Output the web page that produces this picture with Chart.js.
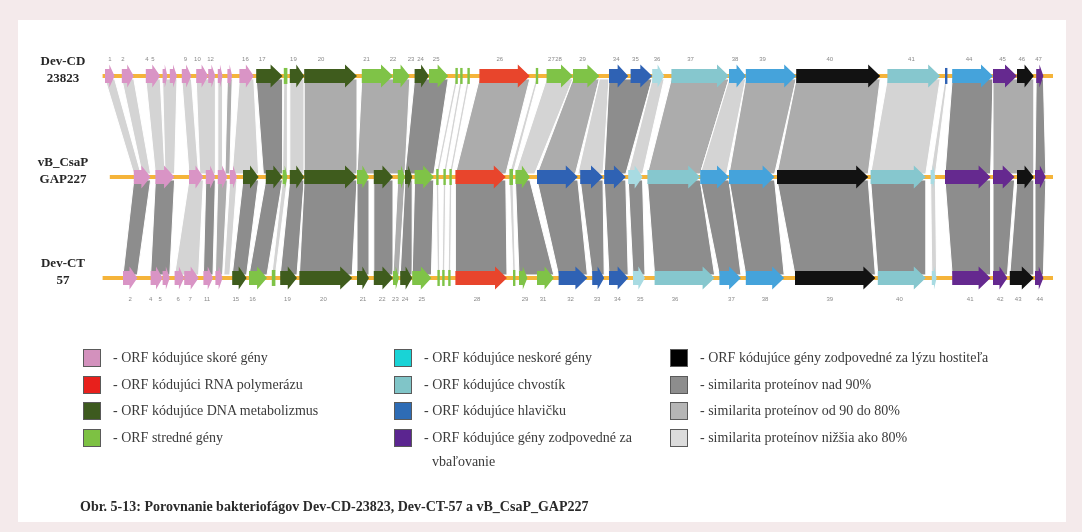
<!DOCTYPE html>
<html>
<head>
<meta charset="utf-8">
<script src="https://cdn.jsdelivr.net/npm/chart.js@4/dist/chart.umd.min.js"></script>
<style>
    body {
        margin: 0;
        width: 1082px;
        height: 532px;
        overflow: hidden;
        position: relative;
        background: #f4eaeb;
        font-family: "Liberation Serif", serif;
    }
    #panel {
        position: absolute;
        left: 18px;
        top: 20px;
        width: 1048px;
        height: 502px;
        background: #fff;
    }
    #genome-chart {
        position: absolute;
        left: 0;
        top: 0;
    }
    .legend-col {
        position: absolute;
        top: 349px;
    }
    .legend-item {
        position: relative;
        height: 26.5px;
    }
    .legend-box {
        position: absolute;
        left: 0;
        top: 0;
        width: 16px;
        height: 16px;
        border: 1px solid #5a5a5a;
    }
    .legend-text {
        position: absolute;
        left: 30px;
        top: 0;
        white-space: nowrap;
        font-size: 14px;
        line-height: 18px;
        color: #3a3a3a;
    }
    .legend-text .wrap {
        display: block;
        padding-left: 8px;
        line-height: 30px;
    }
    #caption {
        position: absolute;
        left: 80px;
        top: 499px;
        font-size: 14px;
        font-weight: bold;
        color: #2a2a2a;
    }
</style>
</head>
<body>
<div id="panel"></div>
<canvas id="genome-chart" width="1082" height="532"></canvas>
<div id="legend"></div>
<div id="caption">Obr. 5-13: Porovnanie bakteriofágov Dev-CD-23823, Dev-CT-57 a vB_CsaP_GAP227</div>
<script>
// genome positions in kb, [start, end, category]
const trackNames = [['Dev-CD', '23823'], ['vB_CsaP', 'GAP227'], ['Dev-CT', '57']];
const genomeSpan = [[-0.1, 39.5], [0.2, 39.5], [-0.1, 39.5]];

const genesTop = [
    [0.0, 0.4, 'early'], [0.7, 1.2, 'early'], [1.7, 2.3, 'early'], [2.4, 2.6, 'early'], [2.7, 3.0, 'early'],
    [3.2, 3.6, 'early'], [3.8, 4.3, 'early'], [4.3, 4.6, 'early'], [4.7, 4.9, 'early'], [5.1, 5.3, 'early'],
    [5.6, 6.2, 'early'], [6.3, 7.4, 'dna'], [7.45, 7.6, 'mid'], [7.7, 8.3, 'dna'], [8.3, 10.5, 'dna'],
    [10.7, 12.0, 'mid'], [12.0, 12.7, 'mid'], [12.9, 13.5, 'dna'], [13.5, 14.3, 'mid'],
    [14.6, 14.7, 'mid'], [14.8, 14.9, 'mid'], [15.1, 15.2, 'mid'], [15.6, 17.7, 'rnap'], [17.95, 18.05, 'mid'],
    [18.4, 19.5, 'mid'], [19.5, 20.6, 'mid'], [21.0, 21.8, 'head'], [21.9, 22.8, 'head'], [22.8, 23.3, 'tail2'],
    [23.6, 26.0, 'tail'], [26.0, 26.7, 'sky'], [26.7, 28.8, 'sky'], [28.8, 32.3, 'lysis'], [32.6, 34.8, 'tail'],
    [35.0, 35.1, 'head'], [35.3, 37.0, 'sky'], [37.0, 38.0, 'pack'], [38.0, 38.7, 'lysis'], [38.8, 39.1, 'pack'],
];

const genesMid = [
    [1.2, 1.9, 'early'], [2.1, 2.9, 'early'], [3.5, 4.1, 'early'], [4.2, 4.6, 'early'], [4.7, 5.1, 'early'],
    [5.2, 5.5, 'early'], [5.75, 6.4, 'dna'], [6.7, 7.4, 'dna'], [7.4, 7.6, 'mid'], [7.7, 8.3, 'dna'],
    [8.3, 10.5, 'dna'], [10.5, 11.0, 'mid'], [11.2, 12.0, 'dna'], [12.2, 12.5, 'mid'], [12.5, 12.8, 'dna'],
    [12.9, 13.7, 'mid'], [13.8, 13.9, 'mid'], [14.1, 14.2, 'mid'], [14.35, 14.45, 'mid'], [14.6, 16.7, 'rnap'],
    [16.85, 17.0, 'mid'], [17.1, 17.7, 'mid'], [18.0, 19.7, 'head'], [19.8, 20.75, 'head'], [20.8, 21.7, 'head'],
    [21.8, 22.4, 'tail2'], [22.6, 24.8, 'tail'], [24.8, 26.0, 'sky'], [26.0, 27.9, 'sky'], [28.0, 31.8, 'lysis'],
    [31.9, 34.2, 'tail'], [34.4, 34.6, 'tail2'], [35.0, 36.9, 'pack'], [37.0, 37.9, 'pack'], [38.0, 38.7, 'lysis'],
    [38.75, 39.2, 'pack'],
];

const genesBottom = [
    [0.75, 1.35, 'early'], [1.9, 2.4, 'early'], [2.4, 2.7, 'early'], [2.9, 3.3, 'early'], [3.3, 3.9, 'early'],
    [4.1, 4.5, 'early'], [4.6, 4.9, 'early'], [5.3, 5.9, 'dna'], [6.0, 6.75, 'mid'], [6.95, 7.1, 'mid'],
    [7.3, 8.0, 'dna'], [8.1, 10.3, 'dna'], [10.5, 11.0, 'dna'], [11.2, 12.0, 'dna'], [12.0, 12.25, 'mid'],
    [12.3, 12.8, 'dna'], [12.8, 13.6, 'mid'], [13.85, 13.95, 'mid'], [14.05, 14.15, 'mid'], [14.3, 14.4, 'mid'],
    [14.6, 16.75, 'rnap'], [17.0, 17.1, 'mid'], [17.25, 17.6, 'mid'], [18.0, 18.7, 'mid'], [18.9, 20.1, 'head'],
    [20.3, 20.8, 'head'], [21.0, 21.8, 'head'], [22.0, 22.5, 'tail2'], [22.9, 25.4, 'tail'], [25.6, 26.5, 'sky'],
    [26.7, 28.3, 'sky'], [28.75, 32.1, 'lysis'], [32.2, 34.2, 'tail'], [34.45, 34.65, 'tail2'], [35.3, 36.9, 'pack'],
    [37.0, 37.6, 'pack'], [37.7, 38.7, 'lysis'], [38.75, 39.1, 'pack'],
];

// similarity links [upper start, upper end, lower start, lower end, class 0 >90% / 1 80-90% / 2 <80%]
const linksTopMid = [
    [0.0, 0.4, 1.2, 1.5, 2], [0.7, 1.2, 1.55, 1.9, 2], [1.7, 2.3, 2.1, 2.5, 2], [2.4, 3.0, 2.5, 2.9, 2],
    [3.2, 3.6, 3.5, 3.9, 2], [3.8, 4.6, 3.95, 4.6, 2], [4.7, 4.9, 4.7, 4.9, 2], [5.1, 5.3, 5.0, 5.2, 1],
    [5.6, 6.2, 5.3, 6.4, 2], [6.3, 7.4, 6.6, 7.4, 0], [7.45, 7.6, 7.4, 7.6, 2], [7.7, 8.3, 7.7, 8.3, 2],
    [8.3, 10.5, 8.3, 10.5, 1], [10.7, 12.7, 10.5, 12.5, 1], [12.9, 14.3, 12.5, 13.7, 0],
    [14.6, 14.7, 13.8, 13.9, 2], [14.8, 14.9, 14.1, 14.2, 2], [15.1, 15.2, 14.35, 14.45, 2],
    [15.6, 17.7, 14.6, 16.7, 1], [17.95, 18.05, 16.85, 17.0, 2], [18.4, 19.5, 17.1, 17.9, 2],
    [19.5, 20.6, 18.0, 19.6, 1], [20.6, 21.0, 19.7, 20.75, 2], [21.0, 22.8, 20.8, 21.7, 0],
    [22.8, 23.3, 21.8, 22.4, 2], [23.6, 26.0, 22.6, 24.8, 1], [26.0, 26.7, 24.8, 25.9, 2],
    [26.7, 28.8, 26.0, 27.9, 1], [28.8, 32.3, 28.0, 31.8, 1], [32.6, 34.8, 31.9, 34.2, 2],
    [35.0, 35.1, 34.4, 34.6, 2], [35.3, 37.0, 35.0, 36.9, 0], [37.0, 38.7, 37.0, 38.7, 1],
    [38.8, 39.1, 38.75, 39.2, 0],
];

const linksMidBottom = [
    [1.2, 1.9, 0.75, 1.35, 0], [2.1, 2.9, 1.9, 2.7, 0], [3.5, 4.1, 2.9, 3.9, 2], [4.2, 4.6, 4.1, 4.5, 0],
    [4.7, 5.1, 4.6, 4.9, 1], [5.2, 5.5, 4.95, 5.2, 2], [5.75, 6.4, 5.3, 5.9, 0], [6.7, 7.4, 6.0, 6.75, 0],
    [7.4, 7.6, 6.95, 7.1, 2], [7.7, 8.3, 7.3, 8.0, 0], [8.3, 10.5, 8.1, 10.3, 0], [10.5, 11.0, 10.5, 11.0, 0],
    [11.2, 12.0, 11.2, 12.0, 0], [12.2, 12.5, 12.0, 12.25, 1], [12.5, 12.8, 12.3, 12.8, 0],
    [12.9, 13.7, 12.8, 13.6, 0], [13.8, 13.9, 13.85, 13.95, 2], [14.1, 14.2, 14.05, 14.15, 2],
    [14.35, 14.45, 14.3, 14.4, 2], [14.6, 16.7, 14.6, 16.75, 0], [16.85, 17.0, 17.0, 17.1, 2],
    [17.1, 17.7, 17.25, 18.7, 0], [18.0, 19.7, 18.9, 20.1, 0], [19.8, 20.75, 20.3, 20.8, 0],
    [20.8, 21.7, 21.0, 21.8, 0], [21.8, 22.4, 22.0, 22.5, 0], [22.6, 24.8, 22.9, 25.4, 0],
    [24.8, 26.0, 25.6, 26.5, 0], [26.0, 27.9, 26.7, 28.3, 0], [28.0, 31.8, 28.75, 32.1, 0],
    [31.9, 34.2, 32.2, 34.2, 0], [34.4, 34.6, 34.45, 34.65, 2], [35.0, 36.9, 35.3, 36.9, 0],
    [37.0, 37.9, 37.0, 37.6, 0], [38.0, 38.7, 37.7, 38.7, 0], [38.75, 39.2, 38.75, 39.1, 0],
];

// ORF numbers [number, kb]
const orfNumbersTop = [
    [1, 0.2], [2, 0.75], [4, 1.75], [5, 2.0], [9, 3.35], [10, 3.85], [12, 4.4], [16, 5.85], [17, 6.55],
    [19, 7.85], [20, 9.0], [21, 10.9], [22, 12.0], [23, 12.75], [24, 13.15], [25, 13.8], [26, 16.45],
    [27, 18.6], [28, 18.9], [29, 19.9], [34, 21.3], [35, 22.1], [36, 23.0], [37, 24.4], [38, 26.25],
    [39, 27.4], [40, 30.2], [41, 33.6], [44, 36.0], [45, 37.4], [46, 38.2], [47, 38.9],
];
const orfNumbersBottom = [
    [2, 1.05], [4, 1.9], [5, 2.3], [6, 3.05], [7, 3.55], [11, 4.25], [15, 5.45], [16, 6.15], [19, 7.6],
    [20, 9.1], [21, 10.75], [22, 11.55], [23, 12.1], [24, 12.5], [25, 13.2], [28, 15.5], [29, 17.5],
    [31, 18.25], [32, 19.4], [33, 20.5], [34, 21.35], [35, 22.3], [36, 23.75], [37, 26.1], [38, 27.5],
    [39, 30.2], [40, 33.1], [41, 36.05], [42, 37.3], [43, 38.05], [44, 38.95],
];

const geneColors = {
    early: '#d994c5', rnap: '#e8452c', dna: '#3f5c1d', mid: '#7fc347', head: '#2f62b4',
    sky: '#45a3db', tail: '#86c7ce', tail2: '#a8dbe2', lysis: '#121212', pack: '#65298f',
};
const linkColors = ['#8d8d8d', '#acacac', '#d4d4d4'];

const legendColumns = [
    [['- ORF kódujúce skoré gény', '#d391bd'], ['- ORF kódujúci RNA polymerázu', '#e8201c'],
     ['- ORF kódujúce DNA metabolizmus', '#3d5a1f'], ['- ORF stredné gény', '#7dc143']],
    [['- ORF kódujúce neskoré gény', '#19d3d6'], ['- ORF kódujúce chvostík', '#80c5c8'],
     ['- ORF kódujúce hlavičku', '#2e6cb5'], ['- ORF kódujúce gény zodpovedné za|vbaľovanie', '#5b2590']],
    [['- ORF kódujúce gény zodpovedné za lýzu hostiteľa', '#000000'], ['- similarita proteínov nad 90%', '#8d8d8d'],
     ['- similarita proteínov od 90 do 80%', '#b5b5b5'], ['- similarita proteínov nižšia ako 80%', '#dcdcdc']],
];
const legendLeft = [83, 394, 670];

const drawLinks = (ctx, x, y, links, upper, lower) => {
    const y1 = y.getPixelForValue(upper) + 3;
    const y2 = y.getPixelForValue(lower) - 3;
    links.forEach(([a1, a2, b1, b2, cls]) => {
        ctx.beginPath();
        ctx.moveTo(x.getPixelForValue(a1), y1);
        ctx.lineTo(x.getPixelForValue(a2), y1);
        ctx.lineTo(x.getPixelForValue(b2), y2);
        ctx.lineTo(x.getPixelForValue(b1), y2);
        ctx.closePath();
        ctx.fillStyle = linkColors[cls];
        ctx.fill();
        ctx.strokeStyle = '#ffffff';
        ctx.lineWidth = 1;
        ctx.stroke();
    });
};

const drawGene = (ctx, x1, x2, yc, color) => {
    const len = x2 - x1;
    ctx.fillStyle = color;
    if (len < 4) {
        ctx.fillRect(x1, yc - 8, Math.max(len, 1.6), 16);
        return;
    }
    const body = 7, head = 11.5;
    const hl = Math.min(12, len * 0.55);
    ctx.beginPath();
    ctx.moveTo(x1, yc - body);
    ctx.lineTo(x2 - hl, yc - body);
    ctx.lineTo(x2 - hl, yc - head);
    ctx.lineTo(x2, yc);
    ctx.lineTo(x2 - hl, yc + head);
    ctx.lineTo(x2 - hl, yc + body);
    ctx.lineTo(x1, yc + body);
    ctx.closePath();
    ctx.fill();
};

const genomePlugin = {
    id: 'genomeMap',
    beforeDatasetsDraw(chart) {
        const {ctx, scales: {x, y}} = chart;
        ctx.save();
        drawLinks(ctx, x, y, linksTopMid, 0, 1);
        drawLinks(ctx, x, y, linksMidBottom, 1, 2);
        ctx.restore();
    },
    afterDatasetsDraw(chart) {
        const {ctx, scales: {x, y}} = chart;
        ctx.save();
        [genesTop, genesMid, genesBottom].forEach((genes, i) => {
            const yc = y.getPixelForValue(i);
            genes.forEach(([s, e, cat]) => {
                drawGene(ctx, x.getPixelForValue(s), x.getPixelForValue(e), yc, geneColors[cat]);
            });
        });

        ctx.fillStyle = '#8a8a8a';
        ctx.font = '6px "Liberation Sans"';
        ctx.textAlign = 'center';
        ctx.textBaseline = 'middle';
        orfNumbersTop.forEach(([n, kb]) => {
            ctx.fillText(String(n), x.getPixelForValue(kb), y.getPixelForValue(0) - 17);
        });
        orfNumbersBottom.forEach(([n, kb]) => {
            ctx.fillText(String(n), x.getPixelForValue(kb), y.getPixelForValue(2) + 21);
        });

        ctx.fillStyle = '#262626';
        ctx.font = 'bold 13px "Liberation Serif"';
        trackNames.forEach(([l1, l2], i) => {
            const yc = y.getPixelForValue(i);
            ctx.fillText(l1, 63, yc - 14);
            ctx.fillText(l2, 63, yc + 3);
        });
        ctx.restore();
    }
};

const buildLegend = () => {
    const host = document.getElementById('legend');
    legendColumns.forEach((items, c) => {
        const col = document.createElement('div');
        col.className = 'legend-col';
        col.style.left = legendLeft[c] + 'px';
        items.forEach(([text, color]) => {
            const item = document.createElement('div');
            item.className = 'legend-item';
            const box = document.createElement('div');
            box.className = 'legend-box';
            box.style.background = color;
            const label = document.createElement('div');
            label.className = 'legend-text';
            const parts = text.split('|');
            label.textContent = parts[0];
            if (parts[1]) {
                const wrap = document.createElement('span');
                wrap.className = 'wrap';
                wrap.textContent = parts[1];
                label.appendChild(wrap);
            }
            item.appendChild(box);
            item.appendChild(label);
            col.appendChild(item);
        });
        host.appendChild(col);
    });
};

buildLegend();

new Chart(document.getElementById('genome-chart').getContext('2d'), {
    type: 'line',
    data: {
        datasets: genomeSpan.map(([s, e], i) => ({
            label: trackNames[i].join(' '),
            data: [{x: s, y: i}, {x: e, y: i}],
            borderColor: '#f5b43a',
            borderWidth: 4,
            pointRadius: 0,
            fill: false,
        })),
    },
    options: {
        responsive: false,
        animation: false,
        devicePixelRatio: 1,
        layout: {padding: 0},
        plugins: {legend: {display: false}, tooltip: {enabled: false}},
        scales: {
            x: {type: 'linear', min: -4.375, max: 40.708, display: false},
            y: {type: 'linear', min: -0.752, max: 4.515, reverse: true, display: false},
        },
    },
    plugins: [genomePlugin],
});
</script>
</body>
</html>
